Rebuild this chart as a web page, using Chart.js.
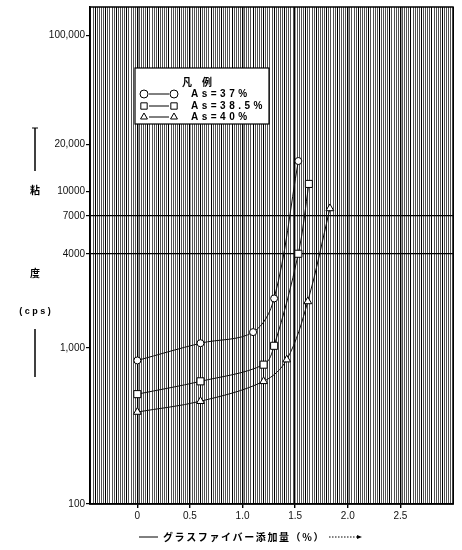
<!DOCTYPE html>
<html><head><meta charset="utf-8">
<script src="https://cdn.jsdelivr.net/npm/chart.js@4"></script>
<style>html,body{margin:0;padding:0;background:#fff}#wrap{width:462px;height:550px;position:relative}</style>
</head><body><div id="wrap"><canvas id="c"></canvas></div>
<script>
const seriesLabels = ['As=37%', 'As=38.5%', 'As=40%'];
const as37X = [0, 0.6, 1.1, 1.3, 1.53];
const as37Y = [830, 1070, 1260, 2070, 15700];
const as385X = [0, 0.6, 1.2, 1.3, 1.53, 1.63];
const as385Y = [505, 610, 780, 1030, 4000, 11200];
const as40X = [0, 0.6, 1.2, 1.42, 1.62, 1.83];
const as40Y = [388, 455, 610, 840, 1980, 7800];
const yTickValues = [100, 1000, 4000, 7000, 10000, 20000, 100000];
const yTickLabels = ['100', '1,000', '4000', '7000', '10000', '20,000', '100,000'];
const xTickValues = [0, 0.5, 1.0, 1.5, 2.0, 2.5];
const xTickLabels = ['0', '0.5', '1.0', '1.5', '2.0', '2.5'];
const legendTitle = '凡　例';
const yTitleChars = ['粘', '度'];
const yTitleUnit = '( c p s )';
const xTitle = 'グラスファイバー添加量（%）';

const pts = (xs, ys) => xs.map((x, i) => ({x: x, y: ys[i]}));

function mk(label, data, style, r) {
  return {
    label: label, data: data, pointStyle: style, pointRadius: r,
    pointBackgroundColor: '#fff', pointBorderColor: '#000', pointBorderWidth: 1,
    borderColor: '#111', borderWidth: 1, fill: false,
    tension: 0.35
  };
}

const FONT = '"Liberation Sans", Arial, sans-serif';

const frame = {
  id: 'frame',
  afterDatasetsDraw(chart) {
    const a = chart.chartArea, ctx = chart.ctx;
    ctx.save();
    ctx.strokeStyle = '#000'; ctx.lineWidth = 1.5;
    ctx.strokeRect(a.left, a.top, a.right - a.left, a.bottom - a.top);
    ctx.restore();
  }
};

const legendBox = {
  id: 'legendBox',
  afterDraw(chart) {
    const ctx = chart.ctx;
    const x0 = 135, y0 = 68, w = 134, h = 56;
    ctx.save();
    ctx.fillStyle = '#fff';
    ctx.fillRect(x0, y0, w, h);
    ctx.strokeStyle = '#000'; ctx.lineWidth = 1.2;
    ctx.strokeRect(x0, y0, w, h);
    ctx.fillStyle = '#000';
    ctx.font = 'bold 10px "Noto Sans CJK JP", sans-serif';
    ctx.textAlign = 'center'; ctx.textBaseline = 'middle';
    ctx.fillText(legendTitle, 197, 82);
    const rows = [94, 106, 117];
    chart.data.datasets.forEach((ds, i) => {
      const y = rows[i];
      ctx.strokeStyle = '#000'; ctx.lineWidth = 1;
      ctx.beginPath(); ctx.moveTo(149, y); ctx.lineTo(169, y); ctx.stroke();
      const o = {pointStyle: ds.pointStyle, radius: ds.pointStyle === 'rect' ? 4.5 : 4, borderWidth: 1};
      ctx.fillStyle = '#fff'; ctx.strokeStyle = '#000';
      Chart.helpers.drawPoint(ctx, o, 144, y);
      Chart.helpers.drawPoint(ctx, o, 174, y);
      ctx.fillStyle = '#000';
      ctx.font = 'bold 10px ' + FONT;
      ctx.textAlign = 'left';
      ctx.letterSpacing = '3.5px';
      ctx.fillText(ds.label, 191, y + 0.5);
      ctx.letterSpacing = '0px';
    });
    ctx.restore();
  }
};

const titles = {
  id: 'titles',
  afterDraw(chart) {
    const ctx = chart.ctx;
    ctx.save();
    ctx.fillStyle = '#000'; ctx.strokeStyle = '#000';
    ctx.lineWidth = 1.5;
    ctx.beginPath(); ctx.moveTo(35, 128); ctx.lineTo(35, 171); ctx.stroke();
    ctx.beginPath(); ctx.moveTo(35, 329); ctx.lineTo(35, 377); ctx.stroke();
    ctx.lineWidth = 1;
    ctx.beginPath(); ctx.moveTo(32, 128); ctx.lineTo(38, 128); ctx.stroke();
    ctx.font = 'bold 10px "Noto Sans CJK JP", sans-serif';
    ctx.textAlign = 'center'; ctx.textBaseline = 'middle';
    ctx.fillText(yTitleChars[0], 35, 190);
    ctx.fillText(yTitleChars[1], 35, 273);
    ctx.font = 'bold 9px ' + FONT;
    ctx.fillText(yTitleUnit, 35, 312);
    const ty = 537;
    ctx.lineWidth = 1;
    ctx.beginPath(); ctx.moveTo(139, ty); ctx.lineTo(158, ty); ctx.stroke();
    ctx.font = 'bold 10px "Noto Sans CJK JP", sans-serif';
    ctx.textAlign = 'left';
    ctx.letterSpacing = '1.6px';
    ctx.fillText(xTitle, 163, ty);
    const tw = ctx.measureText(xTitle).width;
    ctx.letterSpacing = '0px';
    const sx = 163 + tw + 4;
    ctx.setLineDash([1.5, 1.5]);
    ctx.beginPath(); ctx.moveTo(sx, ty); ctx.lineTo(sx + 30, ty); ctx.stroke();
    ctx.setLineDash([]);
    ctx.beginPath(); ctx.moveTo(sx + 33, ty); ctx.lineTo(sx + 28, ty - 2); ctx.lineTo(sx + 28, ty + 2); ctx.closePath(); ctx.fill();
    ctx.restore();
  }
};

const near = (v, step) => Math.abs(v / step - Math.round(v / step)) < 1e-6;
const isLabeledX = v => xTickValues.some(t => Math.abs(t - v) < 1e-6);
const xLabelOf = v => { const i = xTickValues.findIndex(t => Math.abs(t - v) < 1e-6); return i >= 0 ? xTickLabels[i] : ''; };

new Chart(document.getElementById('c'), {
  type: 'line',
  data: {
    datasets: [
      mk(seriesLabels[0], pts(as37X, as37Y), 'circle', 3.5),
      mk(seriesLabels[1], pts(as385X, as385Y), 'rect', 5),
      mk(seriesLabels[2], pts(as40X, as40Y), 'triangle', 4.5)
    ]
  },
  options: {
    responsive: true, maintainAspectRatio: false, animation: false,
    layout: {padding: {top: 4, right: 9, left: 0, bottom: 0}},
    plugins: {legend: {display: false}, tooltip: {enabled: false}},
    scales: {
      x: {
        type: 'linear', min: -0.45, max: 3.0,
        border: {color: '#000', width: 1.5},
        afterFit(s) { s.height = 46; },
        ticks: {
          stepSize: 0.02, autoSkip: false, maxTicksLimit: 1000, maxRotation: 0,
          padding: 2, color: '#111', font: {family: FONT, size: 10},
          callback: v => xLabelOf(v)
        },
        grid: {
          color: c => (c.tick && near(c.tick.value, 0.1)) ? '#000' : 'rgba(0,0,0,0.68)',
          lineWidth: c => (c.tick && isLabeledX(c.tick.value)) ? 1.4 : 1,
          tickColor: c => (c.tick && isLabeledX(c.tick.value)) ? '#000' : 'rgba(0,0,0,0)',
          tickLength: 4
        }
      },
      y: {
        type: 'logarithmic', min: 100, max: 152000,
        border: {color: '#000', width: 1.5},
        afterFit(s) { s.width = 90; },
        afterBuildTicks(s) { s.ticks = yTickValues.map(v => ({value: v})); },
        ticks: {
          autoSkip: false, padding: 1, color: '#111', font: {family: FONT, size: 10},
          callback: (v) => { const i = yTickValues.indexOf(v); return i >= 0 ? yTickLabels[i] : ''; }
        },
        grid: {
          color: c => (c.tick && (c.tick.value === 4000 || c.tick.value === 7000)) ? '#000' : 'rgba(0,0,0,0)',
          lineWidth: 1.2,
          tickColor: '#000', tickLength: 4
        }
      }
    }
  },
  plugins: [frame, legendBox, titles]
});
</script>
</body></html>
